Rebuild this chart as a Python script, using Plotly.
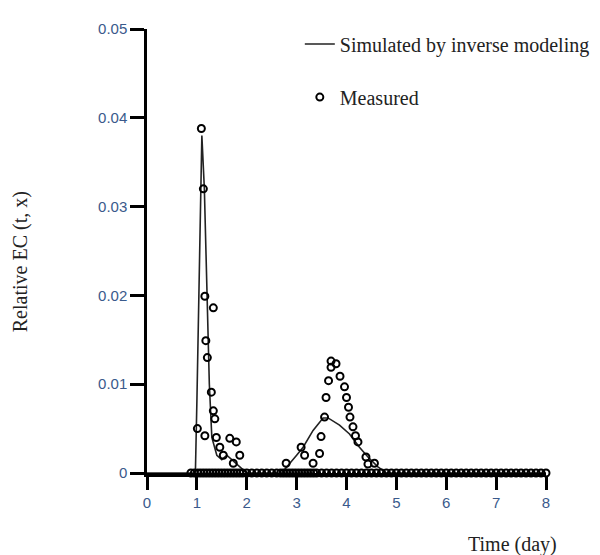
import plotly.graph_objects as go

# Simulated by inverse modeling (time in days, relative EC)
sim_t = [0.0, 0.9, 0.97, 1.0, 1.05, 1.1, 1.15, 1.2, 1.25, 1.3, 1.4, 1.5, 1.6, 1.7, 1.8, 1.9, 2.0,
         2.7, 2.86, 3.0, 3.13, 3.33, 3.53, 3.63, 3.86, 4.06, 4.26, 4.43, 4.63, 4.8, 8.0]
sim_ec = [0.0, 0.0, 0.0, 0.008, 0.025, 0.038, 0.032, 0.02, 0.01, 0.004, 0.002, 0.0015, 0.002, 0.0015, 0.001, 0.0005, 0.0,
          0.0, 0.001, 0.002, 0.0029, 0.0048, 0.0062, 0.0062, 0.0054, 0.0044, 0.0029, 0.0018, 0.0007, 0.0, 0.0]

# Measured points (peaks)
meas_t = [1.09, 1.13, 1.16, 1.33, 1.18, 1.21, 1.29, 1.33, 1.36, 1.01, 1.16, 1.39, 1.66, 1.79, 1.46, 1.86, 1.53, 1.73,
          2.79, 3.09, 3.16, 3.33, 3.46, 3.49, 3.56, 3.59, 3.64, 3.69, 3.69, 3.79, 3.87, 3.96, 4.0, 4.04, 4.07,
          4.13, 4.18, 4.23, 4.39, 4.43, 4.56]
meas_ec = [0.0388, 0.032, 0.0199, 0.0186, 0.0149, 0.013, 0.0091, 0.007, 0.0061, 0.005, 0.0042, 0.004, 0.0039, 0.0035,
           0.0029, 0.002, 0.002, 0.0011,
           0.0011, 0.0029, 0.002, 0.0011, 0.0022, 0.0041, 0.0063, 0.0085, 0.0104, 0.0126, 0.0119, 0.0123, 0.0109,
           0.0097, 0.0085, 0.0074, 0.0063, 0.0052, 0.0042, 0.0035, 0.0018, 0.001, 0.0011]

# Measured points lying on the baseline
zero_t = [0.88, 0.95, 1.02, 1.08, 1.14, 1.2, 1.26, 1.32, 1.38, 1.44, 1.5, 1.56, 1.62, 1.68, 1.74, 1.8, 1.86, 1.92,
          2.0, 2.1, 2.2, 2.3, 2.4, 2.5, 2.6, 2.68, 2.74, 2.8, 2.86, 2.92, 2.98, 3.04, 3.1, 3.16, 3.22, 3.28, 3.34,
          3.4, 3.5, 3.6, 3.7, 3.8, 3.9, 4.0, 4.1, 4.2, 4.3, 4.4, 4.5, 4.6, 4.7, 4.8, 4.9, 5.0, 5.1, 5.2, 5.3, 5.4,
          5.5, 5.6, 5.7, 5.8, 5.9, 6.0, 6.1, 6.2, 6.3, 6.4, 6.5, 6.6, 6.7, 6.8, 6.9, 7.0, 7.1, 7.2, 7.3, 7.4,
          7.5, 7.6, 7.7, 7.8, 7.9, 8.0]
zero_ec = [0.0] * len(zero_t)

x_ticks = [0, 1, 2, 3, 4, 5, 6, 7, 8]
y_ticks = [0, 0.01, 0.02, 0.03, 0.04, 0.05]
y_tick_text = ["0", "0.01", "0.02", "0.03", "0.04", "0.05"]

tick_font = dict(family="Liberation Sans, Arial, sans-serif", size=15, color="#3a5a8c")
serif = "Liberation Serif, Times New Roman, serif"

fig = go.Figure()
fig.add_trace(go.Scatter(x=sim_t, y=sim_ec, mode="lines", name="Simulated by inverse modeling",
                         legendgroup="sim",
                         line=dict(color="#222222", width=1.6), cliponaxis=False))
fig.add_trace(go.Scatter(x=meas_t + zero_t, y=meas_ec + zero_ec, mode="markers", name="Measured",
                         legendgroup="meas",
                         marker=dict(symbol="circle-open", size=7, color="#000000", line=dict(width=2)),
                         cliponaxis=False))

fig.update_layout(
    width=600, height=555,
    margin=dict(l=139, r=62, t=17, b=90),
    paper_bgcolor="white", plot_bgcolor="white",
    showlegend=True,
    legend=dict(x=0.383, y=1.01, xanchor="left", yanchor="top", bgcolor="rgba(0,0,0,0)",
                font=dict(family=serif, size=20, color="#222222"), tracegroupgap=24,
                traceorder="grouped", itemwidth=30),
    xaxis=dict(range=[0, 8], tickvals=x_ticks, ticks="outside", ticklen=13, tickwidth=3, tickcolor="black",
               showline=True, linecolor="black", linewidth=4, showgrid=False, zeroline=False,
               tickfont=tick_font),
    yaxis=dict(range=[0, 0.05], tickvals=y_ticks, ticktext=y_tick_text, ticks="outside", ticklen=14,
               tickwidth=3, tickcolor="black", showline=True, linecolor="black", linewidth=2.5,
               showgrid=False, zeroline=False, tickfont=tick_font),
    annotations=[
        dict(text="Relative EC (t, x)", xref="paper", yref="paper", x=-0.318, y=0.475, xanchor="center",
             yanchor="middle", textangle=-90, showarrow=False, font=dict(family=serif, size=20, color="#222222")),
        dict(text="Time (day)", xref="paper", yref="paper", x=0.915, y=-0.161, xanchor="center",
             yanchor="middle", showarrow=False, font=dict(family=serif, size=20, color="#222222")),
    ],
)

fig.write_html("out.html")
